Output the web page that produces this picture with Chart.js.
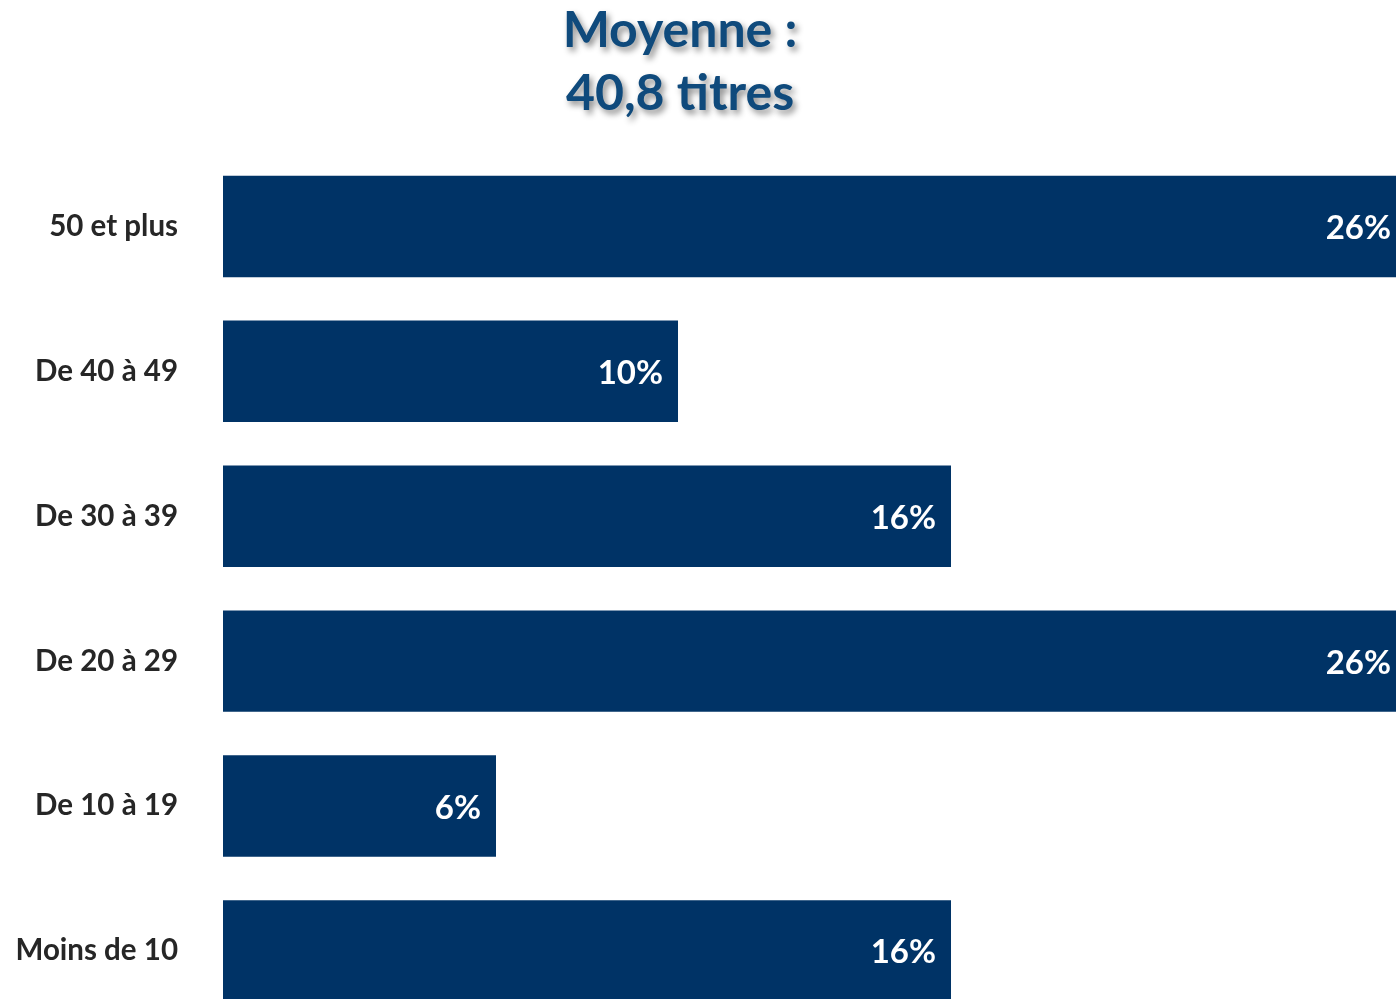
<!DOCTYPE html>
<html>
<head>
<meta charset="utf-8">
<script src="https://cdn.jsdelivr.net/npm/chart.js@4/dist/chart.umd.min.js"></script>
<style>
  html, body { margin: 0; padding: 0; background: #ffffff; overflow: hidden; width: 1396px; height: 999px; }
  #wrap { position: absolute; left: 0; top: 0; width: 1396px; height: 1086px; }
  #title {
    position: absolute; left: 480px; width: 400px; top: -3px;
    text-align: center; font-family: Lato, "Open Sans", sans-serif; font-weight: 700;
    font-size: 50px; line-height: 63px; color: #0f4a7c;
    text-shadow: 3px 4px 6px rgba(0,0,0,0.45);
  }
</style>
</head>
<body>
<div id="wrap"><canvas id="c" width="1396" height="1086"></canvas></div>
<div id="title">Moyenne :<br>40,8 titres</div>
<script>
const categories = ["50 et plus", "De 40 à 49", "De 30 à 39", "De 20 à 29", "De 10 à 19", "Moins de 10"];
const shares = [26, 10, 16, 26, 6, 16];
const valueLabels = ["26%", "10%", "16%", "26%", "6%", "16%"];

const labelPlugin = {
  id: 'valueLabels',
  afterDatasetsDraw(chart) {
    const ctx = chart.ctx;
    const meta = chart.getDatasetMeta(0);
    ctx.save();
    ctx.font = '700 33px Lato, "Open Sans", sans-serif';
    ctx.fillStyle = '#ffffff';
    ctx.textAlign = 'right';
    ctx.textBaseline = 'middle';
    meta.data.forEach((bar, i) => {
      ctx.fillText(valueLabels[i], bar.x - 15, bar.y + 2);
    });
    ctx.restore();
  }
};

new Chart(document.getElementById('c'), {
  type: 'bar',
  data: {
    labels: categories,
    datasets: [{
      data: shares,
      backgroundColor: '#003366',
      borderWidth: 0,
      barPercentage: 0.70,
      categoryPercentage: 1.0
    }]
  },
  options: {
    indexAxis: 'y',
    responsive: false,
    animation: false,
    devicePixelRatio: 1,
    layout: { padding: { top: 154, left: 0, right: 0, bottom: 0 } },
    plugins: { legend: { display: false }, tooltip: { enabled: false }, title: { display: false } },
    scales: {
      x: { display: false, min: 0, max: 25.78 },
      y: {
        grid: { display: false, drawTicks: false, tickLength: 0 },
        border: { display: false },
        ticks: {
          padding: 45,
          color: '#262626',
          font: { family: 'Lato, "Open Sans", sans-serif', size: 29.5, weight: '700' }
        },
        afterFit(scale) { scale.width = 223; }
      }
    }
  },
  plugins: [labelPlugin]
});
</script>
</body>
</html>
